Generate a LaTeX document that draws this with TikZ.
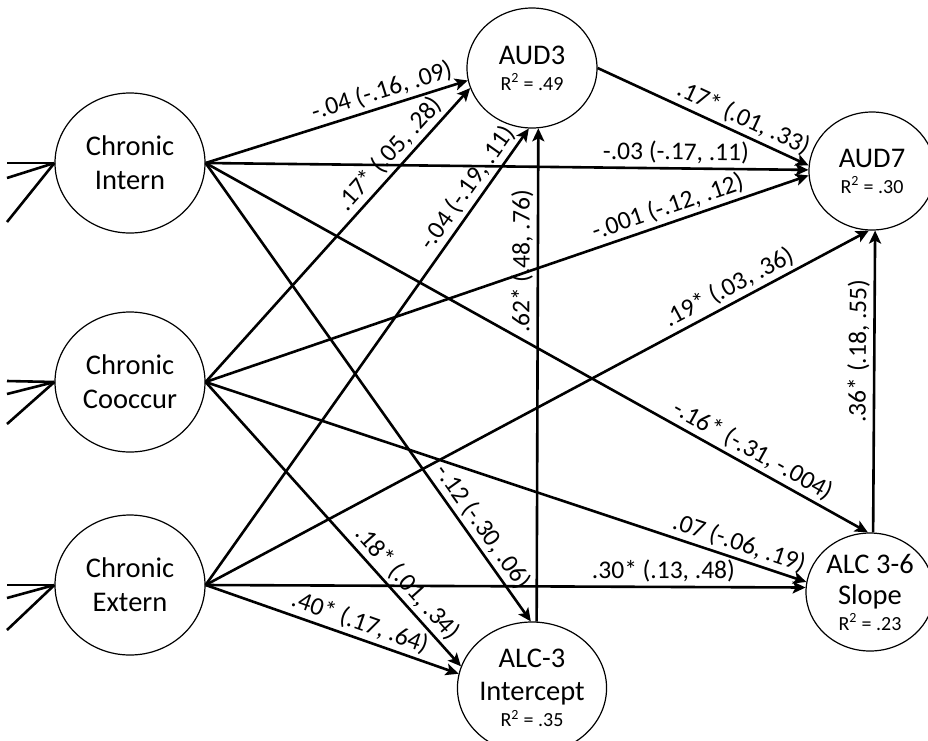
\documentclass[tikz,border=0pt]{standalone}
\usepackage{fontspec}
\setmainfont{Carlito}
\usetikzlibrary{shapes.geometric,arrows.meta}
\newcommand{\rsq}[1]{{\fontsize{20}{22}\selectfont R\textsuperscript{2} = #1}}
\begin{document}
\begin{tikzpicture}[x=1pt,y=-1pt,
  var/.style={draw, ellipse, line width=1.2pt, inner sep=0pt, align=center,
    font=\fontsize{28.5}{34}\selectfont},
  pth/.style={line width=2.6pt, -{Stealth[length=13pt,width=12pt,inset=3pt]}},
  stub/.style={line width=2.6pt},
  lbl/.style={sloped, above, font=\fontsize{25.5}{28}\selectfont, inner sep=3.5pt}]
\useasboundingbox (0,0) rectangle (928,740);
\clip (0,0) rectangle (928,740);

% nodes
\node[var, minimum width=150pt, minimum height=140pt] (ci) at (130,163) {Chronic\\Intern};
\node[var, minimum width=150pt, minimum height=140pt] (cc) at (130,382) {Chronic\\Cooccur};
\node[var, minimum width=150pt, minimum height=140pt] (ce) at (130,585) {Chronic\\Extern};
\node[var, minimum width=130pt, minimum height=120pt] (aud3) at (532,68) {AUD3\\[-8pt]\rsq{.49}};
\node[var, minimum width=126pt, minimum height=118pt] (aud7) at (872,171) {AUD7\\[-8pt]\rsq{.30}};
\node[var, minimum width=128pt, minimum height=118pt] (slope) at (870,592) {ALC 3-6\\[-3pt]Slope\\[-8pt]\rsq{.23}};
\node[var, minimum width=130pt, minimum height=132pt] (icpt) at (532,688) {ALC-3\\[-1pt]Intercept\\[-8pt]\rsq{.35}};

% stubs on the left
\coordinate (a1) at (7,163);
\coordinate (a2) at (7,178);
\coordinate (a3) at (7,222);
\coordinate (b1) at (7,381);
\coordinate (b2) at (7,394);
\coordinate (b3) at (7,424);
\coordinate (c1) at (7,585);
\coordinate (c2) at (7,598);
\coordinate (c3) at (7,630);
\foreach \s in {a1,a2,a3} \draw[stub] (\s) -- (ci.west);
\foreach \s in {b1,b2,b3} \draw[stub] (\s) -- (cc.west);
\foreach \s in {c1,c2,c3} \draw[stub] (\s) -- (ce.west);

% paths to AUD3
\draw[pth] (ci.east) -- (aud3.191) node[lbl,pos=0.69]{-.04 (-.16, .09)};
\draw[pth] (cc.east) -- (aud3.198) node[lbl,pos=0.74]{.17* (.05, .28)};
\draw[pth] (ce.east) -- (aud3.267) node[lbl,pos=0.85]{-.04 (-.19, .11)};
\draw[pth] (icpt.86) -- (aud3.276) node[lbl,pos=0.73]{.62* (.48, .76)};

% paths to AUD7
\draw[pth] (aud3.east) -- (aud7.175) node[lbl,pos=0.66]{.17* (.01, .33)};
\draw[pth] (ci.east) -- (aud7.179) node[lbl,pos=0.78]{-.03 (-.17, .11)};
\draw[pth] (cc.east) -- (aud7.184) node[lbl,pos=0.775]{-.001 (-.12, .12)};
\draw[pth] (ce.east) -- (aud7.267) node[lbl,pos=0.8]{.19* (.03, .36)};
\draw[pth] (slope.87) -- (aud7.273) node[lbl,pos=0.6]{.36* (.18, .55)};

% paths to slope
\draw[pth] (ci.east) -- (slope.92) node[lbl,pos=0.815]{-.16* (-.31, -.004)};
\draw[pth] (cc.east) -- (slope.171) node[lbl,pos=0.88]{.07 (-.06, .19)};
\draw[pth] (ce.east) -- (slope.176) node[lbl,pos=0.763]{.30* (.13, .48)};

% paths to intercept
\draw[pth] (ci.east) -- (icpt.91) node[lbl,pos=0.814]{-.12 (-.30, .06)};
\draw[pth] (cc.east) -- (icpt.163) node[lbl,pos=0.744]{.18* (.01, .34)};
\draw[pth] (ce.east) -- (icpt.169) node[lbl,pos=0.59]{.40* (.17, .64)};
\end{tikzpicture}
\end{document}
